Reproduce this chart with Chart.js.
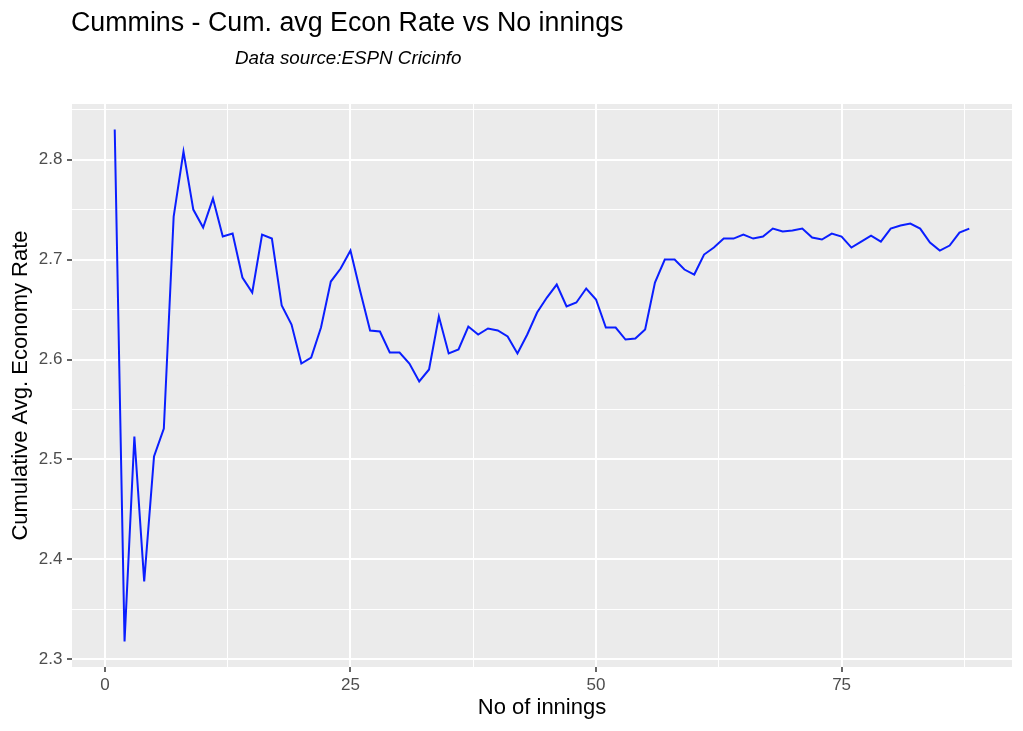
<!DOCTYPE html>
<html>
<head>
<meta charset="utf-8">
<script src="https://cdn.jsdelivr.net/npm/chart.js@4.4.1/dist/chart.umd.min.js"></script>
<style>
  body { margin: 0; background: #fff; }
  #wrap { width: 1023px; height: 731px; }
</style>
</head>
<body>
<div id="wrap"><canvas id="my-chart" width="1023" height="731"></canvas></div>
<script>
// cumulative average economy rate, innings 1..88
const econRate = [
  2.830, 2.318, 2.523, 2.378, 2.503, 2.531, 2.743, 2.808, 2.750, 2.732,
  2.761, 2.723, 2.726, 2.682, 2.667, 2.725, 2.721, 2.654, 2.635, 2.596,
  2.602, 2.632, 2.678, 2.691, 2.709, 2.668, 2.629, 2.628, 2.607, 2.607,
  2.596, 2.578, 2.590, 2.643, 2.606, 2.610, 2.633, 2.625, 2.631, 2.629,
  2.623, 2.606, 2.625, 2.647, 2.662, 2.675, 2.653, 2.657, 2.671, 2.660,
  2.632, 2.632, 2.620, 2.621, 2.630, 2.677, 2.700, 2.700, 2.690, 2.685,
  2.705, 2.712, 2.721, 2.721, 2.725, 2.721, 2.723, 2.731, 2.728, 2.729,
  2.731, 2.722, 2.720, 2.726, 2.723, 2.712, 2.718, 2.724, 2.718, 2.731,
  2.734, 2.736, 2.731, 2.717, 2.709, 2.714, 2.727, 2.731
];
const innings = econRate.map((v, i) => i + 1);

const xTicks = [0, 25, 50, 75];
const yTicks = [2.3, 2.4, 2.5, 2.6, 2.7, 2.8];

const titleText = "Cummins - Cum. avg Econ Rate vs No innings";
const subtitleText = "Data source:ESPN Cricinfo";
const xTitle = "No of innings";
const yTitle = "Cumulative Avg. Economy Rate";

const FONT = "'Liberation Sans', Arial, Helvetica, sans-serif";

// ggplot style 5% expansion of the data range
const expand = (arr) => {
  const lo = Math.min(...arr), hi = Math.max(...arr);
  const pad = (hi - lo) * 0.05;
  return [lo - pad, hi + pad];
};
const [xMin, xMax] = expand(innings);
const [yMin, yMax] = expand(econRate);

const isMajor = (v, list) => list.some(t => Math.abs(t - v) < 1e-6);

// grey panel behind the grid
const panelBg = {
  id: "panelBg",
  beforeDraw(chart) {
    const { ctx, chartArea: a } = chart;
    ctx.save();
    ctx.fillStyle = "#EBEBEB";
    ctx.fillRect(a.left, a.top, a.right - a.left, a.bottom - a.top);
    ctx.restore();
  }
};

// title + subtitle like the ggplot header
const header = {
  id: "header",
  afterDraw(chart) {
    const ctx = chart.ctx;
    ctx.save();
    ctx.fillStyle = "#000";
    ctx.textBaseline = "alphabetic";
    ctx.textAlign = "left";
    ctx.font = `26.8px ${FONT}`;
    ctx.fillText(titleText, 71, 31);
    ctx.font = `italic 18.8px ${FONT}`;
    ctx.fillText(subtitleText, 235, 64);
    ctx.restore();
  }
};

const gridOpts = (list) => ({
  color: "#FFFFFF",
  lineWidth: c => isMajor(c.tick.value, list) ? 2 : 1,
  tickColor: c => isMajor(c.tick.value, list) ? "#333333" : "rgba(0,0,0,0)",
  tickWidth: 1.5,
  tickLength: 5,
  drawTicks: true
});

const ctx = document.getElementById("my-chart").getContext("2d");

const myChart = new Chart(ctx, {
  type: "line",
  data: {
    datasets: [
      {
        data: innings.map((x, i) => ({ x, y: econRate[i] })),
        borderColor: "#0A1EFF",
        borderWidth: 2,
        pointRadius: 0,
        tension: 0,
        fill: false
      }
    ]
  },
  options: {
    responsive: false,
    animation: false,
    layout: { padding: { top: 104, right: 11, left: 0, bottom: 0 } },
    plugins: {
      legend: { display: false },
      tooltip: { enabled: false }
    },
    scales: {
      x: {
        type: "linear",
        min: xMin,
        max: xMax,
        border: { display: false },
        grid: gridOpts(xTicks),
        afterFit: s => { s.height = 64; },
        ticks: {
          stepSize: 12.5,
          includeBounds: false,
          autoSkip: false,
          maxRotation: 0,
          padding: 3,
          color: "#4D4D4D",
          font: { family: FONT, size: 17 },
          callback: v => isMajor(v, xTicks) ? String(Math.round(v)) : ""
        },
        title: {
          display: true,
          text: xTitle,
          color: "#000",
          font: { family: FONT, size: 22, lineHeight: 1 },
          padding: { top: 0, bottom: 12 }
        }
      },
      y: {
        type: "linear",
        min: yMin,
        max: yMax,
        border: { display: false },
        grid: gridOpts(yTicks),
        afterFit: s => { s.width = 72; },
        ticks: {
          stepSize: 0.05,
          includeBounds: false,
          autoSkip: false,
          maxTicksLimit: 20,
          padding: 4.5,
          color: "#4D4D4D",
          font: { family: FONT, size: 17 },
          callback: v => isMajor(v, yTicks) ? v.toFixed(1) : ""
        },
        title: {
          display: true,
          text: yTitle,
          color: "#000",
          font: { family: FONT, size: 22, lineHeight: 1 },
          padding: { top: 9.5, bottom: 0 }
        }
      }
    }
  },
  plugins: [panelBg, header]
});
</script>
</body>
</html>
